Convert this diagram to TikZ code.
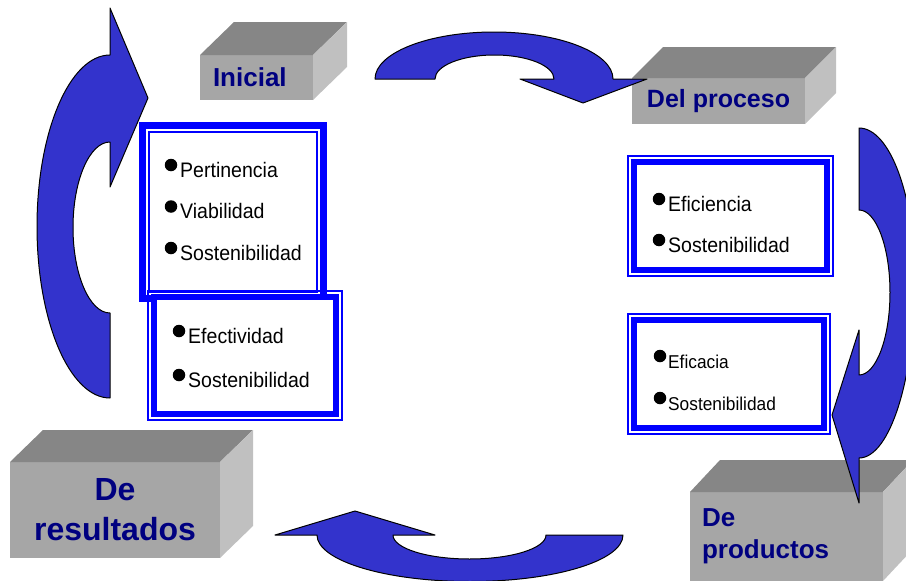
\documentclass[tikz,border=0pt]{standalone}
\usepackage{fontspec}
\setmainfont{Liberation Sans}
\newfontfamily\itemfont[FakeStretch=0.93]{Liberation Sans}
\definecolor{boxblue}{RGB}{0,0,255}
\definecolor{arrowblue}{RGB}{51,51,204}
\definecolor{labelblue}{RGB}{0,0,128}
\definecolor{frontgray}{RGB}{166,166,166}
\definecolor{topgray}{RGB}{134,134,134}
\definecolor{sidegray}{RGB}{192,192,192}
\begin{document}
\begin{tikzpicture}[x=1pt,y=-1pt,
    front/.style = {rectangle,fill=frontgray,inner sep=0mm,outer sep=0mm,text=labelblue,align=center},
    topface/.style = {fill=topgray},
    sideface/.style = {fill=sidegray},
    outerframe/.style = {rectangle,draw=boxblue,line width=7,fill=white,inner sep=0mm,outer sep=0mm},
    innerframe/.style = {rectangle,draw=boxblue,line width=6,fill=white,inner sep=0mm,outer sep=0mm},
    thinline/.style = {draw=boxblue,line width=1.5},
    item/.style = {anchor=base west,inner sep=0mm,font=\itemfont\fontsize{21}{25}\selectfont},
    smallitem/.style = {item,font=\itemfont\fontsize{18.6}{22}\selectfont},
    dot/.style = {circle,fill=black,inner sep=0mm,minimum size=12.5},
    bluearrow/.style = {fill=arrowblue,draw=black,line width=1,line join=round}]
\useasboundingbox (0,0) rectangle (906,581);
\clip (0,0) rectangle (906,581);

\node[front,minimum width=113,minimum height=45,font=\fontsize{26}{32}\selectfont\bfseries,
      text width=87,align=left] (ini) at (256.5,77.5) {Inicial};
\node[front,minimum width=173,minimum height=46,font=\fontsize{25}{31}\selectfont\bfseries] (proc) at (718.5,101) {Del proceso};
\node[front,minimum width=210,minimum height=96,font=\fontsize{32}{40}\selectfont\bfseries] (res) at (115,510) {De\\resultados};
\node[front,minimum width=193,minimum height=89,font=\fontsize{26}{32}\selectfont\bfseries,
      text width=169,align=left] (prod) at (786.5,536.5) {De\\productos};
\foreach \b/\dx/\dy in {ini/34/33, proc/31/31, res/33/32, prod/30/32} {
    \fill[topface] (\b.north west) -- ++(\dx,-\dy) -- ([shift={(\dx,-\dy)}]\b.north east) -- (\b.north east) -- cycle;
    \fill[sideface] (\b.north east) -- ([shift={(\dx,-\dy)}]\b.north east) -- ([shift={(\dx,-\dy)}]\b.south east) -- (\b.south east) -- cycle;
}

\node[outerframe,minimum width=181,minimum height=173] (crit1) at (233,212) {};
\draw[thinline] ([shift={(6.5,6.5)}]crit1.north west) rectangle ([shift={(-6.5,-6.5)}]crit1.south east);
\node[innerframe,minimum width=182,minimum height=117] (crit2) at (245,355.5) {};
\draw[thinline] ([shift={(-6,-6)}]crit2.north west) rectangle ([shift={(6,6)}]crit2.south east);
\node[innerframe,minimum width=193,minimum height=108] (crit3) at (730.5,216) {};
\draw[thinline] ([shift={(-6,-6)}]crit3.north west) rectangle ([shift={(6,6)}]crit3.south east);
\node[innerframe,minimum width=190,minimum height=108] (crit4) at (729,374) {};
\draw[thinline] ([shift={(-6,-6)}]crit4.north west) rectangle ([shift={(6,6)}]crit4.south east);

\foreach \t [count=\j from 0] in {Pertinencia, Viabilidad, Sostenibilidad} {
    \node[item] (a\j) at (180, 177+41.5*\j) {\t};
    \node[dot] (ad\j) at ([shift={(-9,-12)}]a\j.base west) {};
}
\foreach \t [count=\j from 0] in {Efectividad, Sostenibilidad} {
    \node[item] (b\j) at (188, 343+44*\j) {\t};
    \node[dot] (bd\j) at ([shift={(-9,-12)}]b\j.base west) {};
}
\foreach \t [count=\j from 0] in {Eficiencia, Sostenibilidad} {
    \node[item] (c\j) at (668, 211+41*\j) {\t};
    \node[dot] (cd\j) at ([shift={(-9,-12)}]c\j.base west) {};
}
\foreach \t [count=\j from 0] in {Eficacia, Sostenibilidad} {
    \node[smallitem] (d\j) at (668, 368+42*\j) {\t};
    \node[dot] (dd\j) at ([shift={(-8,-12)}]d\j.base west) {};
}

\draw[bluearrow] (110,398) .. controls (69.7,398) and (37,321.2) .. (37,226.5)
    .. controls (37,131.8) and (69.7,55) .. (110,55) -- (110,8) -- (148,98) -- (110,187) -- (110,142)
    .. controls (89.6,142) and (73,180.3) .. (73,227.5) .. controls (73,274.7) and (89.6,313) .. (110,313) -- cycle;
\draw[bluearrow] (375,79) .. controls (375,53) and (428.3,32) .. (494,32)
    .. controls (559.7,32) and (613,53) .. (613,79) -- (647,79) -- (583,103) -- (520,79) -- (554,79)
    .. controls (554,65.7) and (527.4,55) .. (494.5,55) .. controls (461.6,55) and (435,65.7) .. (435,79) -- cycle;
\draw[bluearrow] (859,128) .. controls (889.9,128) and (915,196) .. (915,280)
    .. controls (915,378.3) and (889.9,458) .. (859,458) -- (859,503) -- (832,415) -- (859,330) -- (859,375)
    .. controls (876.1,375) and (890,338.1) .. (890,292.5) .. controls (890,246.9) and (876.1,210) .. (859,210) -- cycle;
\draw[bluearrow] (317,535) .. controls (317,560.7) and (385.5,581.5) .. (470,581.5)
    .. controls (554.5,581.5) and (623,560.7) .. (623,535) -- (546,535)
    .. controls (546,548.3) and (511.8,559) .. (469.5,559) .. controls (427.2,559) and (393,548.3) .. (393,535)
    -- (435,535) -- (355,511) -- (275,535) -- cycle;
\end{tikzpicture}
\end{document}
